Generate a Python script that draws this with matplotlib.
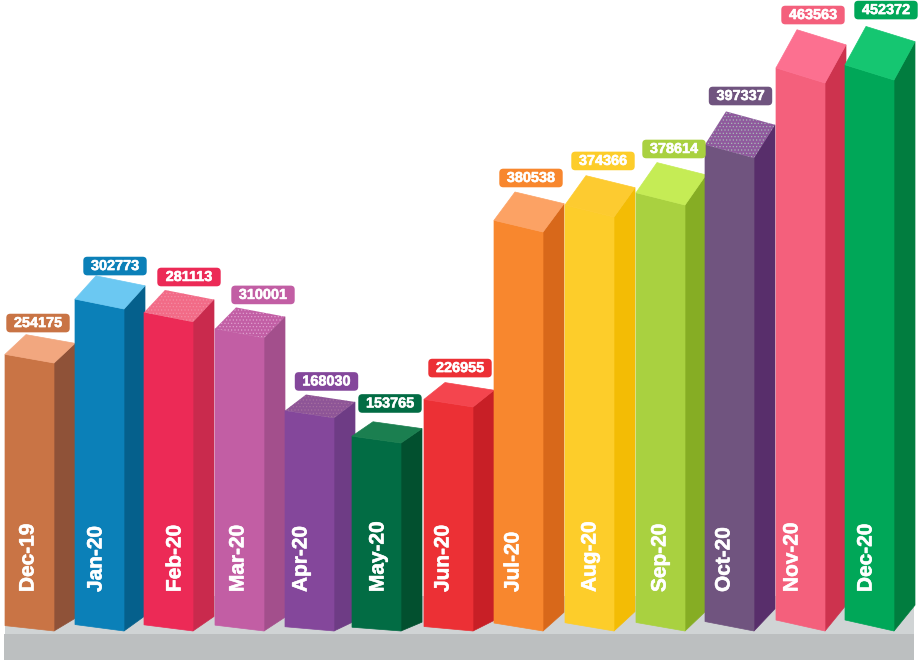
import matplotlib
matplotlib.use('Agg')
import matplotlib.pyplot as plt
import matplotlib.patheffects as pe
from matplotlib.patches import Polygon, Rectangle, FancyBboxPatch

plt.rcParams['font.family'] = ['Liberation Sans', 'DejaVu Sans']
plt.rcParams['hatch.linewidth'] = 0.5

# The data
months = ['Dec-19', 'Jan-20', 'Feb-20', 'Mar-20', 'Apr-20', 'May-20', 'Jun-20',
          'Jul-20', 'Aug-20', 'Sep-20', 'Oct-20', 'Nov-20', 'Dec-20']
values = [254175, 302773, 281113, 310001, 168030, 153765, 226955,
          380538, 374366, 378614, 397337, 463563, 452372]
# the drawn bars do not follow the values exactly, so heights are read off the picture
bar_heights = [268, 322, 309, 293, 213, 188, 224, 399, 414, 426, 473, 548, 551]

front_colors = ['#c97445', '#0b80b8', '#ec2a56', '#c25ea4', '#84479b', '#026c44', '#ec3035',
                '#f8872e', '#fdcd2a', '#a9d140', '#70547f', '#f4607c', '#00a758']
side_colors = ['#8f5238', '#05608c', '#c92a4d', '#a34f8c', '#6e3c85', '#02502f', '#c81f26',
               '#d8681a', '#f3bc05', '#86ad24', '#582e6b', '#cd334e', '#017d3f']
top_colors = ['#f2a77f', '#6bc8f2', '#f26b87', '#c25fa5', '#8e5597', '#1b7f50', '#f4454e',
              '#fca264', '#fdcb30', '#c5ec55', '#8f5a9d', '#fc7090', '#15c671']
# stippled top faces
dot_colors = {'Feb-20': '#f58ba3', 'Mar-20': '#dfa0cf', 'Apr-20': '#a5709f', 'Oct-20': '#a9b8b8'}

# small layout nudges, bars are not spaced perfectly
bar_nudge = [0, 0, -1, 0, 0, -3, -1, -1, 0, 1, 0, 1, 0]
label_dx = [33, 40, 45, 48, 41.5, 38, 36, 37, 38, 38, 35.5, 37, 41]
label_dy = [11.6, 9.8, 13, 12.5, 13.1, 18.3, 14.5, 14, 14.7, 13.6, 15.4, 14.7, 16.4]
month_dx = [23, 21, 31, 23, 16, 26, 19, 19, 25, 24, 19, 16, 21]

# Plot the data, axes are in picture pixels
fig = plt.figure(figsize=(9.22, 6.63), dpi=100)
ax = fig.add_axes([0, 0, 1, 1])
ax.set_xlim(0, 922)
ax.set_ylim(663, 0)
ax.axis('off')

base_y = 631
bar_w = 49
side_w = 21
# reference text looks a bit heavier than plain bold
heavy = [pe.withStroke(linewidth=0.4, foreground='white')]

# the floor
ax.add_patch(Rectangle((5, 596), 909, 38, facecolor='#d0d4d5', edgecolor='none', zorder=1))
ax.add_patch(Rectangle((4, 634), 910, 26, facecolor='#bcbfc0', edgecolor='none', zorder=1))

for i, month in enumerate(months):
    left = 5 + 70 * i + bar_nudge[i]
    right = left + bar_w
    h = bar_heights[i]
    top_r = base_y - h
    # perspective gets stronger with bar height
    slant = 2.5 + 0.023 * h
    rise = 2 + 0.066 * h
    foot_slant = 0.02 * h
    foot_rise = 0.047 * h

    front = [(left, base_y - foot_slant), (right, base_y), (right, top_r), (left, top_r - slant)]
    side = [(right, base_y), (right + side_w, base_y - foot_rise), (right + side_w, top_r - rise), (right, top_r)]
    top = [(left, top_r - slant), (right, top_r), (right + side_w, top_r - rise),
           (left + side_w, top_r - slant - rise)]

    ax.add_patch(Polygon(side, facecolor=side_colors[i], edgecolor=side_colors[i], linewidth=0.5, zorder=2))
    ax.add_patch(Polygon(front, facecolor=front_colors[i], edgecolor=front_colors[i], linewidth=0.5, zorder=3))
    if month in dot_colors:
        ax.add_patch(Polygon(top, facecolor=top_colors[i], edgecolor=dot_colors[month], linewidth=0,
                             hatch='.....', zorder=3))
    else:
        ax.add_patch(Polygon(top, facecolor=top_colors[i], edgecolor=top_colors[i], linewidth=0.5, zorder=3))

    # month name runs up the front of the bar
    ax.text(left + month_dx[i], 592, month, rotation=90, color='white', fontsize=15, fontweight='bold',
            ha='center', va='bottom', zorder=5, path_effects=heavy)

    # value pill above the bar
    cx = left + label_dx[i]
    cy = top_r - slant - rise - label_dy[i]
    ax.add_patch(FancyBboxPatch((cx - 28.2, cy - 5.8), 56.4, 11.6, boxstyle='round,pad=3.5,rounding_size=4',
                                facecolor=front_colors[i], edgecolor='none', zorder=4))
    ax.text(cx, cy, str(values[i]), color='white', fontsize=10.4, fontweight='bold',
            ha='center', va='center', zorder=5, path_effects=heavy)

plt.savefig('out.png', dpi=100, facecolor='white')
